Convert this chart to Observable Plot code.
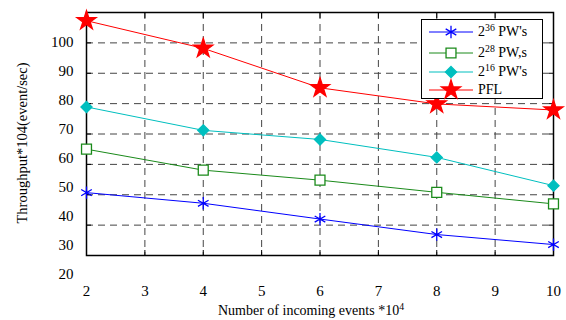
<!DOCTYPE html>
<html><head><meta charset="utf-8">
<script src="https://cdn.jsdelivr.net/npm/d3@7"></script>
<script src="https://cdn.jsdelivr.net/npm/@observablehq/plot@0.6"></script>
<style>
body{margin:0;background:#fff;}
#wrap{position:relative;width:566px;height:320px;font-family:"Liberation Serif","Times New Roman",serif;color:#000;}
#wrap > svg{position:absolute;left:0;top:0;overflow:visible;}
#xtitle{position:absolute;left:111px;width:400px;top:302px;text-align:center;font-size:14px;line-height:18px;white-space:nowrap;}
#ytitle{position:absolute;left:22px;top:143px;transform:translate(-50%,-50%) rotate(-90deg);font-size:14.5px;line-height:18px;white-space:nowrap;}
#legend{position:absolute;left:421px;top:19px;width:122px;height:80px;box-sizing:border-box;border:1px solid #000;background:#fff;}
#legend svg{position:absolute;left:0;top:0;}
.lt{position:absolute;left:56px;font-size:14px;line-height:16px;white-space:nowrap;}
sup{font-size:0.7em;line-height:0;vertical-align:0.5em;}
</style></head><body><div id="wrap"></div>
<script>
// ---- data ----
const xValues = [2, 4, 6, 8, 10];
const pw36 = [50.7, 47.2, 42.0, 36.9, 33.6];
const pw28 = [65.0, 58.1, 54.8, 50.8, 47.0];
const pw16 = [78.9, 71.2, 68.2, 62.3, 53.0];
const pfl  = [107.3, 98.2, 85.2, 79.9, 77.9];
const seriesBase = ["36", "28", "16", null];
const seriesSuffix = [" PW's", " PW,s", " PW's", "PFL"];
const xTicks = [2, 3, 4, 5, 6, 7, 8, 9, 10];
const xGrid = [3, 4, 5, 6, 7, 8, 9];
const yGrid = [40, 50, 60, 70, 80, 90, 100];
const yTickLabels = [20, 30, 40, 50, 60, 70, 80, 90, 100];

const seriesValues = [pw36, pw28, pw16, pfl];
const seriesStyle = [
  {color: "#0000ff", symbol: "asterisk", r: 5.8, fill: "none"},
  {color: "#1a8a1a", symbol: "square", r: 5.6, fill: "#ffffff"},
  {color: "#00bfbf", symbol: "diamond2", r: 5.0, fill: "#00bfbf"},
  {color: "#ff0000", symbol: "star", r: 6.0, fill: "#ff0000"}
];

const rows = [];
seriesValues.forEach((vals, i) => vals.forEach((v, j) => rows.push({s: i, x: xValues[j], y: v})));

const font = '"Liberation Serif","Times New Roman",serif';
const wrap = document.getElementById("wrap");

const lineMarks = seriesValues.map((vals, i) => Plot.line(rows.filter(d => d.s === i), {x: "x", y: "y", stroke: seriesStyle[i].color, strokeWidth: 1}));
const dotMarks = seriesValues.map((vals, i) => Plot.dot(rows.filter(d => d.s === i), {
  x: "x", y: "y", symbol: () => seriesStyle[i].symbol, r: seriesStyle[i].r,
  stroke: seriesStyle[i].color, fill: seriesStyle[i].fill, strokeWidth: 1.3
}));

const main = Plot.plot({
  width: 566, height: 320,
  marginLeft: 86, marginRight: 13, marginTop: 12, marginBottom: 65,
  x: {domain: [2, 10]},
  y: {domain: [30, 110]},
  symbol: {type: "identity"},
  style: {fontFamily: font, fontSize: "15px", background: "transparent", color: "#000"},
  marks: [
    Plot.ruleY(yGrid, {stroke: "#444", strokeDasharray: "7,5", strokeWidth: 1}),
    Plot.ruleX(xGrid, {x: d => d, stroke: "#444", strokeDasharray: "7,5", strokeWidth: 1}),
    Plot.axisX({ticks: xTicks, anchor: "bottom", tickSize: 0, tickPadding: 30, label: null}),
    Plot.axisX({ticks: xTicks, anchor: "bottom", tickSize: -5, fill: "none", label: null}),
    Plot.axisX({ticks: xTicks, anchor: "top", tickSize: -5, fill: "none", label: null}),
    Plot.axisY({ticks: yGrid, anchor: "left", tickSize: -5, fill: "none", label: null}),
    Plot.axisY({ticks: yGrid, anchor: "right", tickSize: -5, fill: "none", label: null}),
    Plot.frame({stroke: "#000", strokeWidth: 1.5}),
    ...lineMarks,
    ...dotMarks
  ]
});
wrap.appendChild(main);

// y tick labels (as drawn in the reference, spaced on their own scale)
const ylab = Plot.plot({
  width: 566, height: 320,
  marginLeft: 86, marginRight: 13, marginTop: 42, marginBottom: 46,
  y: {domain: [20, 100]},
  style: {fontFamily: font, fontSize: "15px", background: "transparent", color: "#000"},
  marks: [Plot.axisY({ticks: yTickLabels, anchor: "left", tickSize: 0, tickPadding: 13, label: null})]
});
wrap.appendChild(ylab);

// titles
const xt = document.createElement("div");
xt.id = "xtitle";
xt.innerHTML = "Number of incoming events *10<sup>4</sup>";
wrap.appendChild(xt);
const yt = document.createElement("div");
yt.id = "ytitle";
yt.textContent = "Throughput*104(event/sec)";
wrap.appendChild(yt);

// legend
const lg = document.createElement("div");
lg.id = "legend";
const rowY = [12, 33, 52, 70];
const svg = d3.create("svg").attr("width", 122).attr("height", 80);
const symMap = {asterisk: d3.symbolAsterisk, square: d3.symbolSquare, diamond2: d3.symbolDiamond2, star: d3.symbolStar};
seriesStyle.forEach((st, i) => {
  svg.append("line").attr("x1", 7).attr("x2", 51).attr("y1", rowY[i]).attr("y2", rowY[i]).attr("stroke", st.color).attr("stroke-width", 1);
  svg.append("path").attr("transform", `translate(29,${rowY[i]})`)
    .attr("d", d3.symbol(symMap[st.symbol], Math.PI * st.r * st.r)())
    .attr("fill", st.fill).attr("stroke", st.color).attr("stroke-width", 1.3);
  const t = document.createElement("div");
  t.className = "lt";
  t.style.top = (rowY[i] - 8) + "px";
  t.innerHTML = seriesBase[i] ? `2<sup>${seriesBase[i]}</sup>${seriesSuffix[i]}` : seriesSuffix[i];
  lg.appendChild(t);
});
lg.appendChild(svg.node());
wrap.appendChild(lg);
</script>
</body></html>
